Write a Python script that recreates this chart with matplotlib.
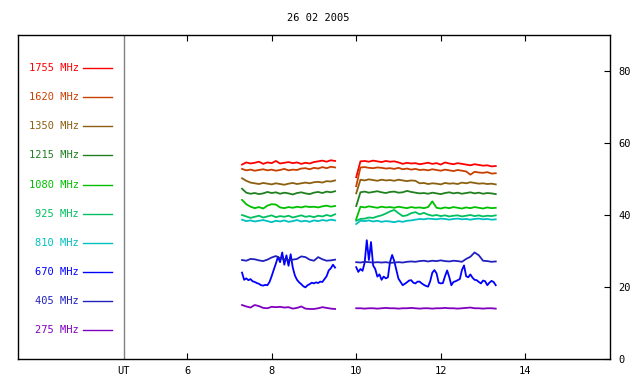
import matplotlib
matplotlib.use("Agg")
import matplotlib.pyplot as plt
import numpy as np

# time axis (UT hours) for the two observation segments
t1 = [7.3, 7.4, 7.5, 7.6, 7.7, 7.8, 7.9, 8.0, 8.1, 8.2, 8.3, 8.4, 8.5, 8.6, 8.7, 8.8, 8.9,
      9.0, 9.1, 9.2, 9.3, 9.4, 9.5]
t2 = [10.0, 10.1, 10.2, 10.3, 10.4, 10.5, 10.6, 10.7, 10.8, 10.9, 11.0, 11.1, 11.2, 11.3,
      11.4, 11.5, 11.6, 11.7, 11.8, 11.9, 12.0, 12.1, 12.2, 12.3, 12.4, 12.5, 12.6, 12.7,
      12.8, 12.9, 13.0, 13.1, 13.2, 13.3]
# finer sampling for the 670 MHz channel
t1f = [7.30, 7.35, 7.40, 7.45, 7.50, 7.55, 7.60, 7.65, 7.70, 7.75, 7.80, 7.85, 7.90, 7.95,
       8.00, 8.05, 8.10, 8.15, 8.20, 8.25, 8.30, 8.35, 8.40, 8.45, 8.50, 8.55, 8.60, 8.65,
       8.70, 8.75, 8.80, 8.85, 8.90, 8.95, 9.00, 9.05, 9.10, 9.15, 9.20, 9.25, 9.30, 9.35,
       9.40, 9.45, 9.50]
t2f = [10.00, 10.05, 10.10, 10.15, 10.20, 10.25, 10.30, 10.35, 10.40, 10.45, 10.50, 10.55,
       10.60, 10.65, 10.70, 10.75, 10.80, 10.85, 10.90, 10.95, 11.00, 11.05, 11.10, 11.15,
       11.20, 11.25, 11.30, 11.35, 11.40, 11.45, 11.50, 11.55, 11.60, 11.65, 11.70, 11.75,
       11.80, 11.85, 11.90, 11.95, 12.00, 12.05, 12.10, 12.15, 12.20, 12.25, 12.30, 12.35,
       12.40, 12.45, 12.50, 12.55, 12.60, 12.65, 12.70, 12.75, 12.80, 12.85, 12.90, 12.95,
       13.00, 13.05, 13.10, 13.15, 13.20, 13.25, 13.30]

freqs = ["1755", "1620", "1350", "1215", "1080", "925", "810", "670", "405", "275"]
colors = ["#ff0000", "#c84000", "#8b6010", "#208020", "#00c000", "#00c060", "#00c0c0",
          "#0000ff", "#2020c0", "#8000c0"]

f1755_a = [54.0, 54.6, 54.3, 54.5, 54.8, 54.2, 54.6, 54.4, 55.0, 54.3, 54.5, 54.7, 54.4, 54.6,
           54.2, 54.5, 54.3, 54.7, 54.9, 55.1, 54.8, 55.2, 55.0]
f1755_b = [50.5, 54.9, 55.0, 54.8, 55.1, 54.9, 54.7, 55.0, 54.8, 54.9, 54.6, 54.2, 54.5, 54.3,
           54.4, 54.1, 54.3, 54.5, 54.2, 54.4, 54.0, 54.6, 54.3, 54.1, 54.4, 54.2, 54.0, 53.8,
           54.1, 53.9, 53.7, 53.8, 53.5, 53.6]
f1620_a = [52.8, 52.4, 52.6, 52.3, 52.5, 52.7, 52.4, 52.6, 52.3, 52.5, 52.8, 52.4, 52.6, 52.5,
           52.9, 53.0, 52.7, 53.1, 52.9, 53.3, 53.0, 53.4, 53.2]
f1620_b = [48.0, 53.2, 53.3, 53.1, 53.0, 53.2, 53.1, 52.9, 53.0, 52.8, 53.1, 52.7, 52.9, 52.6,
           52.8, 52.5, 52.6, 52.4, 52.7, 52.5, 52.3, 52.6, 52.4, 52.2, 52.5, 52.3, 52.1, 51.2,
           52.0, 51.8, 51.7, 51.9, 51.5, 51.6]
f1350_a = [50.2, 49.5, 49.0, 48.8, 48.6, 48.9, 48.7, 48.5, 48.8, 48.6, 48.4, 48.7, 48.9, 48.6,
           48.8, 49.0, 48.8, 49.1, 49.2, 49.0, 49.4, 49.3, 49.6]
f1350_b = [46.0, 49.8, 49.6, 49.9, 49.7, 49.5, 49.8, 49.6, 49.7, 49.5, 49.8, 49.6, 49.4, 49.6,
           49.5, 48.8, 48.9, 48.6, 48.8, 48.7, 48.5, 48.9, 48.7, 48.8, 48.6, 49.0, 48.8, 49.1,
           48.9, 48.7, 48.8, 48.6, 48.7, 48.5]
f1215_a = [47.3, 46.2, 45.9, 46.1, 45.8, 46.0, 46.4, 46.1, 46.3, 45.9, 46.2, 46.0, 45.7, 46.1,
           46.3, 46.0, 45.8, 46.2, 46.4, 46.1, 46.5, 46.3, 46.6]
f1215_b = [42.5, 46.3, 46.5, 46.2, 46.4, 46.6, 46.3, 46.1, 46.4, 46.5, 46.2, 46.3, 46.7, 46.4,
           46.2, 46.0, 46.1, 45.9, 46.2, 46.0, 45.8, 46.1, 46.3, 46.0, 46.2, 45.9, 46.1, 46.3,
           46.0, 46.2, 45.9, 46.1, 46.0, 45.8]
f1080_a = [44.2, 43.0, 42.3, 41.9, 42.2, 41.8, 42.6, 43.0, 42.9, 42.1, 41.9, 42.2, 42.0, 42.3,
           42.1, 42.4, 42.2, 42.3, 42.1, 42.4, 42.6, 42.3, 42.5]
f1080_b = [38.8, 42.3, 42.1, 42.4, 42.2, 42.0, 42.3, 42.1, 42.2, 42.0, 42.3, 42.1, 41.9, 42.2,
           42.0, 42.1, 41.9, 42.2, 43.8, 42.0, 41.8, 42.1, 41.9, 42.2, 42.0, 41.8, 42.1, 41.9,
           42.2, 42.0, 41.8, 42.1, 41.9, 42.0]
f925_a = [40.0, 39.6, 39.2, 39.5, 39.8, 39.3, 39.6, 39.9, 39.4, 39.7, 39.5, 39.8, 39.3, 39.6,
          39.9, 39.5, 39.7, 39.4, 39.8, 39.6, 40.0, 39.7, 40.2]
f925_b = [38.4, 38.9, 39.0, 39.3, 39.2, 39.6, 39.9, 40.4, 41.0, 41.4, 40.5, 39.7, 39.9, 40.5,
          40.8, 40.2, 40.6, 40.1, 39.8, 40.0, 39.7, 39.9, 39.6, 39.8, 39.9, 39.6, 39.8, 40.0,
          39.7, 39.9, 39.6, 39.8, 39.7, 39.9]
f810_a = [38.7, 38.3, 38.5, 38.2, 38.4, 38.6, 38.3, 38.0, 38.4, 38.2, 38.5, 38.1, 38.3, 38.6,
          38.2, 38.4, 38.1, 38.5, 38.3, 38.6, 38.4, 38.7, 38.5]
f810_b = [37.5, 38.4, 38.3, 38.5, 38.2, 38.4, 38.1, 38.3, 38.2, 38.0, 38.3, 38.1, 38.4, 38.5,
          38.7, 38.9, 38.8, 39.0, 38.9, 38.8, 39.0, 38.9, 38.7, 38.9, 39.0, 38.8, 38.9, 38.7,
          38.9, 39.0, 38.8, 38.9, 38.7, 38.8]
f670_a = [24.0, 22.0, 22.4, 21.9, 22.2, 21.6, 21.4, 21.1, 20.9, 20.5, 20.4, 20.6, 20.5, 21.4,
          23.0, 24.8, 26.5, 28.4, 26.9, 29.6, 26.2, 28.8, 25.9, 29.1, 25.4, 23.2, 22.0, 21.3,
          20.8, 20.2, 19.9, 20.5, 20.8, 21.2, 21.0, 21.3, 21.1, 21.5, 21.4, 22.2, 23.0, 24.6,
          25.2, 26.2, 25.4]
f670_b = [25.5, 24.2, 25.0, 24.5, 26.8, 33.0, 27.5, 32.5, 26.0, 25.0, 22.9, 23.5, 22.0, 22.9,
          22.4, 22.7, 27.0, 28.9, 27.2, 24.7, 22.3, 21.4, 20.5, 20.9, 21.3, 21.8, 21.9, 21.2,
          21.0, 21.5, 21.5, 21.0, 20.6, 20.3, 20.1, 21.6, 24.0, 24.7, 23.8, 21.2, 21.0, 21.1,
          23.0, 24.6, 22.8, 20.5, 21.4, 21.6, 21.9, 22.2, 24.7, 26.0, 23.0, 22.7, 23.5, 22.6,
          22.0, 21.9, 21.4, 21.0, 21.8, 21.6, 20.5, 21.2, 21.7, 21.4, 20.5]
f405_a = [27.5, 27.3, 27.8, 27.7, 27.4, 27.2, 27.6, 28.2, 28.6, 28.0, 27.7, 27.5, 27.6, 27.8,
          28.5, 28.3, 27.6, 27.3, 28.3, 27.7, 27.3, 27.4, 27.6]
f405_b = [26.9, 26.8, 27.0, 26.9, 26.8, 26.9, 26.8, 26.9, 26.7, 26.8, 26.9, 26.8, 27.0, 27.1,
          27.0, 27.2, 27.3, 27.1, 27.3, 27.2, 27.4, 27.2, 27.1, 27.3, 27.2, 27.0, 27.8, 28.4,
          29.6, 28.8, 27.3, 27.2, 27.0, 27.1]
f275_a = [15.0, 14.6, 14.3, 15.0, 14.7, 14.2, 14.1, 14.5, 14.4, 14.5, 14.3, 14.4, 14.0, 14.2,
          14.6, 14.0, 13.9, 13.9, 14.1, 14.4, 14.2, 14.0, 13.9]
f275_b = [14.1, 14.1, 14.0, 14.1, 14.1, 14.0, 14.1, 14.2, 14.1, 14.1, 14.0, 14.1, 14.1, 14.2,
          14.1, 14.0, 14.1, 14.1, 14.0, 14.1, 14.1, 14.2, 14.1, 14.1, 14.0, 14.1, 14.2, 14.3,
          14.1, 14.1, 14.0, 14.1, 14.1, 14.0]

series = [
    (t1, f1755_a, t2, f1755_b),
    (t1, f1620_a, t2, f1620_b),
    (t1, f1350_a, t2, f1350_b),
    (t1, f1215_a, t2, f1215_b),
    (t1, f1080_a, t2, f1080_b),
    (t1, f925_a, t2, f925_b),
    (t1, f810_a, t2, f810_b),
    (t1f, f670_a, t2f, f670_b),
    (t1, f405_a, t2, f405_b),
    (t1, f275_a, t2, f275_b),
]

plt.rcParams['font.family'] = ['DejaVu Sans Mono']
fig = plt.figure(figsize=(6.4, 3.84), dpi=100)
ax = fig.add_axes([0.028, 0.065, 0.925, 0.844])

for (xa, ya, xb, yb), c in zip(series, colors):
    ax.plot(xa, ya, color=c, lw=1.3)
    ax.plot(xb, yb, color=c, lw=1.3)

# legend drawn inside the left strip of the axes
for i, (f, c) in enumerate(zip(freqs, colors)):
    yy = 0.898 - 0.0899 * i
    ax.text(0.103, yy, f + " MHz", color=c, fontsize=7.5, ha='right', va='center',
            transform=ax.transAxes)
    ax.plot([0.110, 0.159], [yy, yy], color=c, lw=1, transform=ax.transAxes)

ax.axvline(4.5, color='#808080', lw=1)

ax.set_xlim(2, 16)
ax.set_ylim(0, 90)
ax.set_xticks([4.5, 6, 8, 10, 12, 14])
ax.set_xticklabels(["UT", "6", "8", "10", "12", "14"])
ax.set_yticks([0, 20, 40, 60, 80])
ax.yaxis.tick_right()
ax.tick_params(axis='x', direction='in', top=True, length=4, labelsize=7.5, pad=5)
ax.tick_params(axis='y', direction='in', right=True, left=False, length=4,
               labelsize=7.5, pad=6)
ax.xaxis.get_major_ticks()[0].tick1line.set_visible(False)
ax.xaxis.get_major_ticks()[0].tick2line.set_visible(False)
for s in ax.spines.values():
    s.set_linewidth(1)

fig.text(0.497, 0.953, "26 02 2005", ha='center', va='center', fontsize=7.5)

fig.savefig("out.png", dpi=100)
